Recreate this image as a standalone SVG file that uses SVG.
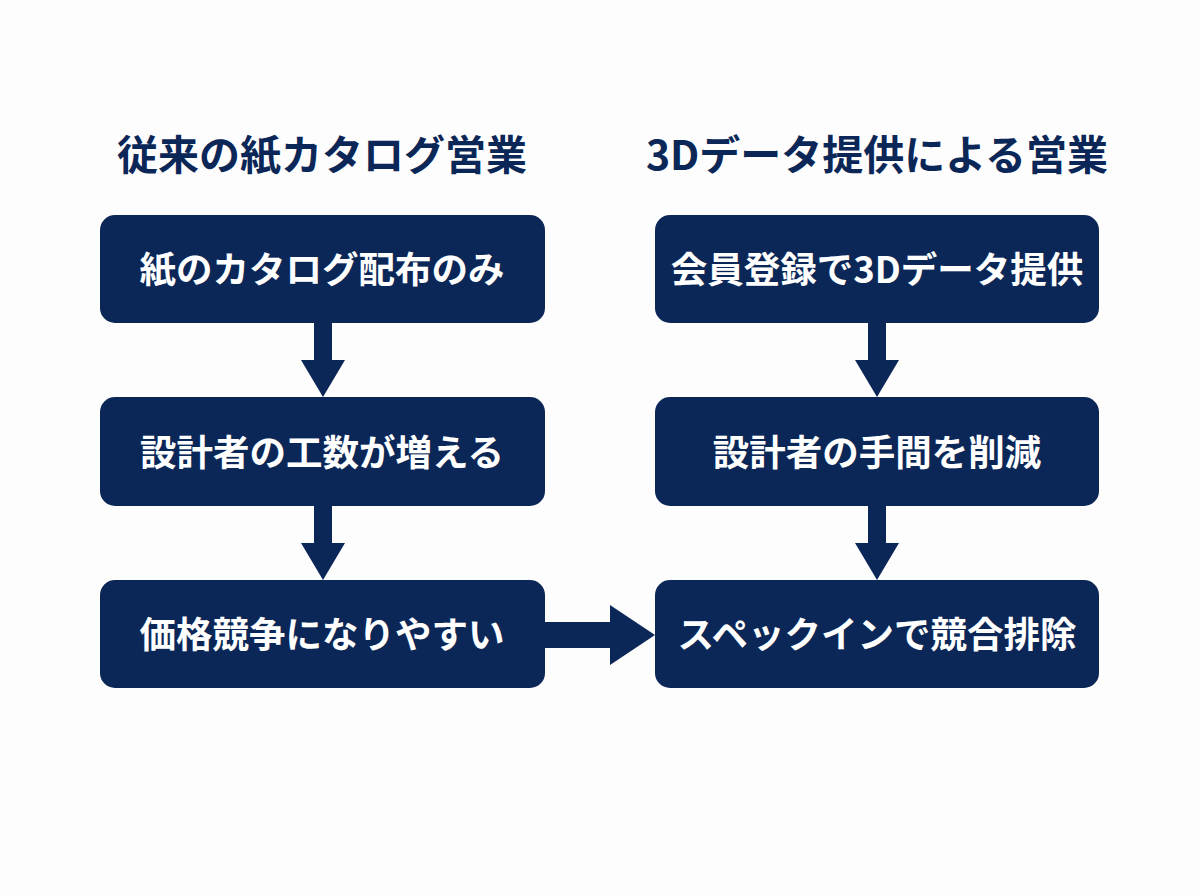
<svg xmlns="http://www.w3.org/2000/svg" width="1200" height="896" viewBox="0 0 1200 896">
<style>
.bg{fill:#fdfdfd}
.box{fill:#0b2757}
.title{font-family:"Noto Sans CJK JP","Noto Sans",sans-serif;font-weight:bold;font-size:41px;fill:#0b2757;text-anchor:middle}
.lbl{font-family:"Noto Sans CJK JP","Noto Sans",sans-serif;font-weight:bold;font-size:36.5px;fill:#ffffff;text-anchor:middle}
.arr{fill:#0b2757}
</style>
<rect class="bg" x="0" y="0" width="1200" height="896"/>
<text class="title" x="322" y="170">従来の紙カタログ営業</text>
<text class="title" x="877" y="170">3Dデータ提供による営業</text>
<g id="connectors">
<polygon class="arr" points="314,323 332,323 332,360 345,360 323,397 301,360 314,360"/>
<polygon class="arr" points="314,506 332,506 332,543 345,543 323,580 301,543 314,543"/>
<polygon class="arr" points="868,323 886,323 886,360 899,360 877,397 855,360 868,360"/>
<polygon class="arr" points="868,506 886,506 886,543 899,543 877,580 855,543 868,543"/>
<polygon class="arr" points="545,622 610,622 610,605 655,635 610,665 610,648 545,648"/>
</g>
<g id="n1"><rect class="box" x="100" y="215" width="445" height="108" rx="15"/><text class="lbl" x="322" y="283">紙のカタログ配布のみ</text></g>
<g id="n2"><rect class="box" x="100" y="397" width="445" height="109" rx="15"/><text class="lbl" x="322" y="466">設計者の工数が増える</text></g>
<g id="n3"><rect class="box" x="100" y="580" width="445" height="108" rx="15"/><text class="lbl" x="322" y="648">価格競争になりやすい</text></g>
<g id="n4"><rect class="box" x="655" y="215" width="444" height="108" rx="15"/><text class="lbl" x="877" y="283">会員登録で3Dデータ提供</text></g>
<g id="n5"><rect class="box" x="655" y="397" width="444" height="109" rx="15"/><text class="lbl" x="877" y="466">設計者の手間を削減</text></g>
<g id="n6"><rect class="box" x="655" y="580" width="444" height="108" rx="15"/><text class="lbl" x="877" y="648">スペックインで競合排除</text></g>
</svg>
